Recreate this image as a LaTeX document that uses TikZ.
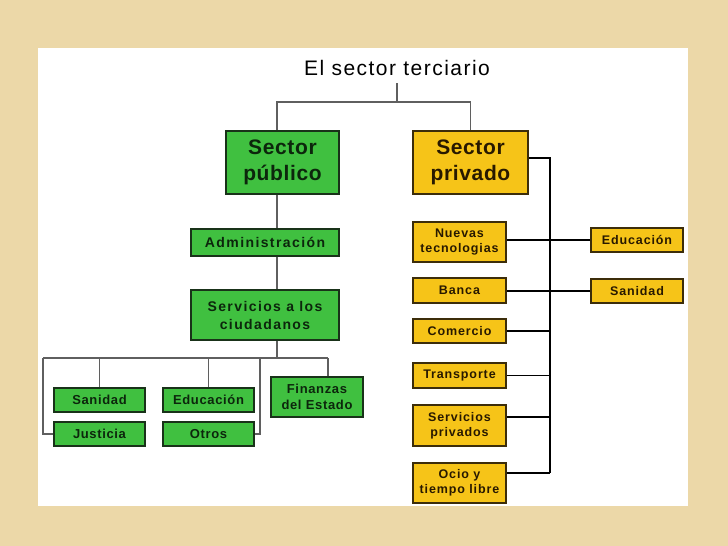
\documentclass[tikz,border=0pt]{standalone}
\usepackage{fontspec}
\setmainfont{Liberation Sans}
\newfontfamily\titlefont[LetterSpace=7]{Liberation Sans}
\newfontfamily\bigfont[LetterSpace=3]{Liberation Sans}
\newfontfamily\midfont[LetterSpace=10]{Liberation Sans}
\newfontfamily\gsmallfont[LetterSpace=5]{Liberation Sans}
\newfontfamily\ysmallfont[LetterSpace=7]{Liberation Sans}
\definecolor{bgc}{RGB}{236,216,168}
\definecolor{gfill}{RGB}{64,192,64}
\definecolor{gborder}{RGB}{25,50,25}
\definecolor{gtext}{RGB}{12,38,12}
\definecolor{yfill}{RGB}{246,196,24}
\definecolor{yborder}{RGB}{60,45,10}
\definecolor{ytext}{RGB}{40,25,0}
\definecolor{glink}{RGB}{95,95,95}
\tikzset{
  box/.style={line width=1.4pt, inner sep=0pt, align=center},
  gbox/.style={box, draw=gborder, fill=gfill, text=gtext},
  ybox/.style={box, draw=yborder, fill=yfill, text=ytext},
  gbig/.style={font=\bigfont\bfseries\fontsize{21}{26.5}\selectfont},
  gmid/.style={font=\midfont\bfseries\fontsize{14}{18}\selectfont},
  gsmall/.style={font=\gsmallfont\bfseries\fontsize{13}{16.5}\selectfont},
  ysmall/.style={font=\ysmallfont\bfseries\fontsize{12.5}{15}\selectfont},
  glinks/.style={draw=glink, line width=1.6pt},
  ylinks/.style={draw=black, line width=1.2pt}
}
\begin{document}
\begin{tikzpicture}[x=1pt,y=-1pt]
\useasboundingbox (0,0) rectangle (728,546);
\fill[bgc] (0,0) rectangle (728,546);
\fill[white] (38,48) rectangle (688,506);

% title
\node[font=\titlefont\fontsize{21}{25}\selectfont, inner sep=0pt] (title) at (397,68) {El sector terciario};
\coordinate (tbot) at (397,83);
\coordinate (tbus) at (397,102);
\coordinate (cx) at (277,0);
\coordinate (ybus) at (550,0);
\coordinate (gbus) at (0,358);

% public sector
\node[gbox, gbig, minimum width=113, minimum height=63] (pub) at (282.5,162.5) {Sector\\público};
\node[gbox, gmid, minimum width=148, minimum height=27] (adm) at (265,242.5) {Administración};
\node[gbox, gmid, minimum width=148, minimum height=50] (serv) at (265,315) {Servicios a los\\ciudadanos};
\node[gbox, gsmall, minimum width=91, minimum height=24] (san) at (99.5,400) {Sanidad};
\node[gbox, gsmall, minimum width=91, minimum height=24] (jus) at (99.5,434) {Justicia};
\node[gbox, gsmall, minimum width=91, minimum height=24] (edu) at (208.5,400) {Educación};
\node[gbox, gsmall, minimum width=91, minimum height=24] (otr) at (208.5,434) {Otros};
\node[gbox, gsmall, minimum width=92, minimum height=40] (fin) at (317,397) {Finanzas\\del Estado};

% private sector
\node[ybox, gbig, minimum width=115, minimum height=63] (priv) at (470.5,162.5) {Sector\\privado};
\node[ybox, ysmall, minimum width=93, minimum height=40] (nt) at (459.5,242) {Nuevas\\tecnologias};
\node[ybox, ysmall, minimum width=93, minimum height=25] (ban) at (459.5,290.5) {Banca};
\node[ybox, ysmall, minimum width=93, minimum height=24] (com) at (459.5,331) {Comercio};
\node[ybox, ysmall, minimum width=93, minimum height=25] (tra) at (459.5,375.5) {Transporte};
\node[ybox, ysmall, minimum width=93, minimum height=41] (sp) at (459.5,425.5) {Servicios\\privados};
\node[ybox, ysmall, minimum width=93, minimum height=40] (ocio) at (459.5,483) {Ocio y\\tiempo libre};
\node[ybox, ysmall, minimum width=92, minimum height=24] (edu2) at (637,240) {Educación};
\node[ybox, ysmall, minimum width=92, minimum height=24] (san2) at (637,291) {Sanidad};

% top connectors
\draw[glinks] (tbot) -- (tbus);
\draw[glinks] (tbus) -| (pub.north -| cx);
\draw[glinks] (tbus) -| (priv.north);

% public connectors
\draw[glinks] (pub.south -| cx) -- (adm.north -| cx);
\draw[glinks] (adm.south -| cx) -- (serv.north -| cx);
\draw[glinks] (serv.south -| cx) -- (gbus -| cx);
\coordinate (gl) at (43,358);
\coordinate (gr) at (328,358);
\coordinate (gm) at (260,358);
\draw[glinks] (gl) -- (gr);
\draw[glinks] (gr) -- (fin.north -| gr);
\draw[glinks] (san.north |- gbus) -- (san.north);
\draw[glinks] (edu.north |- gbus) -- (edu.north);
\draw[glinks] (gl) -- (gl |- jus.west) -- (jus.west);
\draw[glinks] (gm) -- (gm |- otr.east) -- (otr.east);

% private connectors
\coordinate (ptop) at (550,158);
\draw[ylinks] (priv.east |- ptop) -- (ptop) -- ([yshift=10pt]ocio.east -| ybus);
\draw[ylinks] (edu2.west) -- (edu2.west -| nt.east);
\draw[ylinks] (san2.west) -- (san2.west -| ban.east);
\draw[ylinks] (com.east) -- (com.east -| ybus);
\draw[ylinks] (tra.east) -- (tra.east -| ybus);
\draw[ylinks] ([yshift=8.5pt]sp.east) -- ([yshift=8.5pt]sp.east -| ybus);
\draw[ylinks] ([yshift=10pt]ocio.east) -- ([yshift=10pt]ocio.east -| ybus);
\end{tikzpicture}
\end{document}
